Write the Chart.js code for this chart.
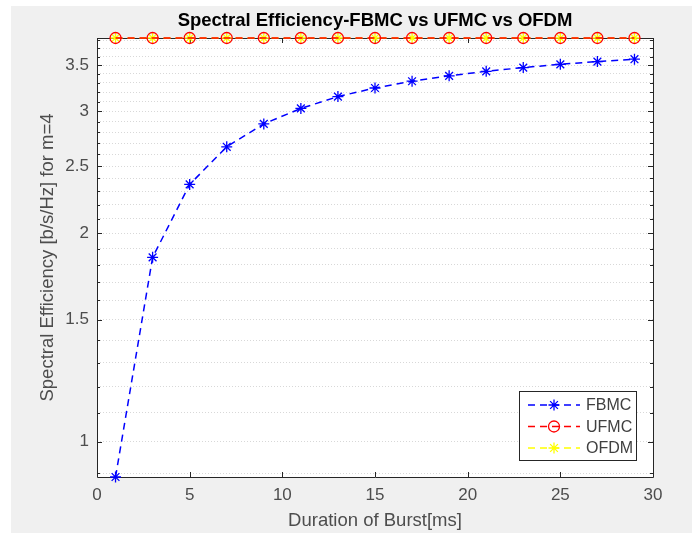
<!DOCTYPE html>
<html>
<head>
<meta charset="utf-8">
<script src="https://cdn.jsdelivr.net/npm/chart.js@4.4.1/dist/chart.umd.min.js"></script>
<style>
  html, body { margin: 0; padding: 0; background: #fff; }
  #wrap { width: 692px; height: 533px; position: relative; }
</style>
</head>
<body>
<div id="wrap"><canvas id="se-chart" width="692" height="533"></canvas></div>
<script>
// burst durations [ms]
const burst = [1, 3, 5, 7, 9, 11, 13, 15, 17, 19, 21, 23, 25, 27, 29];
// spectral efficiency values
const fbmc = [0.889, 1.846, 2.353, 2.667, 2.878, 3.030, 3.152, 3.243, 3.317, 3.377, 3.428, 3.471, 3.509, 3.541, 3.569];
const ufmc = [3.83, 3.83, 3.83, 3.83, 3.83, 3.83, 3.83, 3.83, 3.83, 3.83, 3.83, 3.83, 3.83, 3.83, 3.83];
const ofdm = [3.83, 3.83, 3.83, 3.83, 3.83, 3.83, 3.83, 3.83, 3.83, 3.83, 3.83, 3.83, 3.83, 3.83, 3.83];

const xTicks = [0, 5, 10, 15, 20, 25, 30];
const yMajorTicks = [1, 1.5, 2, 2.5, 3, 3.5];
const yMinorTicks = [0.9, 1, 1.1, 1.2, 1.3, 1.4, 1.5, 1.6, 1.7, 1.8, 1.9, 2, 2.1, 2.2, 2.3, 2.4, 2.5,
  2.6, 2.7, 2.8, 2.9, 3, 3.1, 3.2, 3.3, 3.4, 3.5, 3.6, 3.7, 3.8];
const yMin = 0.889, yMax = 3.83;

const chartTitle = 'Spectral Efficiency-FBMC vs UFMC vs OFDM';
const FONT = '"Liberation Sans", Arial, sans-serif';
const chartCanvas = document.getElementById('se-chart');

function toXY(ys) {
  return burst.map((b, i) => ({ x: b, y: ys[i] }));
}

// gray figure panel + white axes background
const panelBg = {
  id: 'panelBg',
  beforeDraw(chart) {
    const { ctx, chartArea } = chart;
    ctx.save();
    ctx.fillStyle = '#ffffff';
    ctx.fillRect(0, 0, chart.width, chart.height);
    ctx.fillStyle = '#f0f0f0';
    ctx.fillRect(11, 6, chart.width - 11, chart.height - 6);
    ctx.fillStyle = '#ffffff';
    ctx.fillRect(chartArea.left, chartArea.top, chartArea.right - chartArea.left, chartArea.bottom - chartArea.top);
    ctx.restore();
  }
};

// box and inward ticks like matlab axes
const axesBox = {
  id: 'axesBox',
  beforeDatasetsDraw(chart) {
    const { ctx, chartArea: a, scales } = chart;
    ctx.save();
    ctx.strokeStyle = '#262626';
    ctx.lineWidth = 1;
    ctx.beginPath();
    ctx.rect(Math.round(a.left) + 0.5, Math.round(a.top) + 0.5, Math.round(a.right - a.left), Math.round(a.bottom - a.top));
    ctx.stroke();
    ctx.beginPath();
    xTicks.forEach(v => {
      const px = Math.round(scales.x.getPixelForValue(v)) + 0.5;
      ctx.moveTo(px, a.bottom); ctx.lineTo(px, a.bottom - 5);
      ctx.moveTo(px, a.top); ctx.lineTo(px, a.top + 5);
    });
    yMinorTicks.forEach(v => {
      const len = yMajorTicks.includes(v) ? 5 : 3;
      const py = Math.round(scales.y.getPixelForValue(v)) + 0.5;
      ctx.moveTo(a.left, py); ctx.lineTo(a.left + len, py);
      ctx.moveTo(a.right, py); ctx.lineTo(a.right - len, py);
    });
    ctx.stroke();
    ctx.restore();
  }
};

// title centred over the axes, like matlab
const axesTitle = {
  id: 'axesTitle',
  afterDraw(chart) {
    const { ctx, chartArea: a } = chart;
    ctx.save();
    ctx.fillStyle = '#000000';
    ctx.font = 'bold 18.5px ' + FONT;
    ctx.textAlign = 'center';
    ctx.textBaseline = 'middle';
    ctx.fillText(chartTitle, (a.left + a.right) / 2, 21);
    ctx.restore();
  }
};

// legend box in the lower right corner
const boxLegend = {
  id: 'boxLegend',
  afterDraw(chart) {
    const { ctx } = chart;
    const bx = 519, by = 391, bw = 117, bh = 69;
    ctx.save();
    ctx.fillStyle = '#ffffff';
    ctx.fillRect(bx, by, bw, bh);
    ctx.strokeStyle = '#262626';
    ctx.lineWidth = 1;
    ctx.strokeRect(bx + 0.5, by + 0.5, bw, bh);
    chart.data.datasets.forEach((ds, i) => {
      const y = by + 14 + i * 21.5;
      ctx.strokeStyle = ds.borderColor;
      ctx.lineWidth = ds.borderWidth;
      ctx.setLineDash(ds.borderDash);
      ctx.beginPath();
      ctx.moveTo(528, y);
      ctx.lineTo(580, y);
      ctx.stroke();
      ctx.setLineDash([]);
      ctx.strokeStyle = ds.pointBorderColor;
      ctx.lineWidth = ds.pointBorderWidth;
      ctx.beginPath();
      const r = ds.pointRadius;
      if (ds.pointStyle === 'circle') {
        ctx.arc(554, y, r, 0, Math.PI * 2);
      } else {
        for (let k = 0; k < 4; k++) {
          const ang = k * Math.PI / 4;
          ctx.moveTo(554 - r * Math.cos(ang), y - r * Math.sin(ang));
          ctx.lineTo(554 + r * Math.cos(ang), y + r * Math.sin(ang));
        }
      }
      ctx.stroke();
      ctx.fillStyle = '#404040';
      ctx.font = '16px ' + FONT;
      ctx.textBaseline = 'middle';
      ctx.textAlign = 'left';
      ctx.fillText(ds.label, 586, y + 1);
    });
    ctx.restore();
  }
};

function series(label, ys, color, style) {
  return {
    label: label,
    data: toXY(ys),
    borderColor: color,
    borderWidth: 1.5,
    borderDash: [7, 5],
    pointStyle: style,
    pointRadius: 5.5,
    pointBorderColor: color,
    pointBackgroundColor: 'rgba(0,0,0,0)',
    pointBorderWidth: 1.3,
    fill: false,
    tension: 0,
    clip: false
  };
}

const chart = new Chart(chartCanvas, {
  type: 'line',
  data: {
    datasets: [
      series('FBMC', fbmc, '#0000ff', 'star'),
      series('UFMC', ufmc, '#ff0000', 'circle'),
      series('OFDM', ofdm, '#ffff00', 'star')
    ]
  },
  options: {
    responsive: false,
    animation: false,
    events: [],
    layout: { padding: { left: 0, right: 39, top: 38, bottom: 0 } },
    plugins: {
      legend: { display: false },
      tooltip: { enabled: false },
      title: { display: false }
    },
    scales: {
      x: {
        type: 'linear',
        min: 0, max: 30,
        afterBuildTicks: s => { s.ticks = xTicks.map(v => ({ value: v })); },
        afterFit: s => { s.height = 56; },
        grid: { display: false, drawTicks: false },
        border: { display: false },
        ticks: {
          color: '#4d4d4d', padding: 8,
          font: { family: FONT, size: 17 }
        },
        title: {
          display: true, text: 'Duration of Burst[ms]', color: '#4d4d4d',
          font: { family: FONT, size: 18.5 },
          padding: { top: 0, bottom: 1 }
        }
      },
      y: {
        type: 'logarithmic',
        min: yMin, max: yMax,
        afterBuildTicks: s => { s.ticks = yMinorTicks.map(v => ({ value: v })); },
        afterFit: s => { s.width = 97; },
        grid: { display: true, drawTicks: false, color: '#d8d8d8', lineWidth: 1 },
        border: { display: false, dash: [1, 2] },
        ticks: {
          color: '#4d4d4d', padding: 8, autoSkip: false,
          font: { family: FONT, size: 17 },
          callback: v => (yMajorTicks.includes(v) ? String(v) : '')
        },
        title: {
          display: true, text: 'Spectral Efficiency [b/s/Hz] for m=4', color: '#4d4d4d',
          font: { family: FONT, size: 18.5 },
          padding: { top: 37, bottom: 0 }
        }
      }
    }
  },
  plugins: [panelBg, axesBox, axesTitle, boxLegend]
});
</script>
</body>
</html>
